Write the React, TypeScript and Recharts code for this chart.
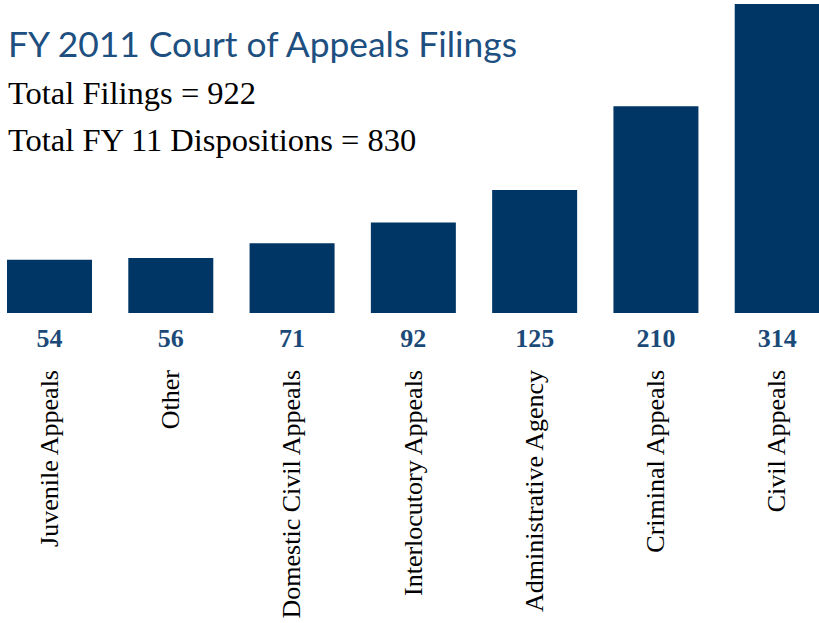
import React from "react";
import { BarChart, Bar, XAxis, YAxis, LabelList } from "recharts";

const categories = [
  "Juvenile Appeals",
  "Other",
  "Domestic Civil Appeals",
  "Interlocutory Appeals",
  "Administrative Agency",
  "Criminal Appeals",
  "Civil Appeals",
];
const filings = [54, 56, 71, 92, 125, 210, 314];
const titleText = "FY 2011 Court of Appeals Filings";
const subtitleLines = ["Total Filings = 922", "Total FY 11 Dispositions = 830"];

const data = categories.map((name, i) => ({ name, value: filings[i] }));

const BAR_COLOR = "#003665";
const LABEL_COLOR = "#1c4a78";
const SERIF = "'Liberation Serif', 'Times New Roman', serif";

const CategoryTick = (props: any) => {
  const { x, payload } = props;
  return (
    <text
      transform={`translate(${x + 8}, 370) rotate(-90)`}
      textAnchor="end"
      fontFamily={SERIF}
      fontSize={26}
      fill="#000"
    >
      {payload.value}
    </text>
  );
};

const ValueLabel = (props: any) => {
  const { x, y, width, height, value } = props;
  return (
    <text
      x={x + width / 2}
      y={y + height + 34}
      textAnchor="middle"
      fontFamily={SERIF}
      fontWeight="bold"
      fontSize={26}
      fill={LABEL_COLOR}
    >
      {value}
    </text>
  );
};

export default function App() {
  return (
    <div
      style={{
        position: "relative",
        width: 819,
        height: 623,
        overflow: "hidden",
        background: "#fff",
      }}
    >
      <style>{`html,body{margin:0;padding:0;overflow:hidden;}`}</style>
      <div style={{ position: "absolute", left: -11, top: 0, width: 849, height: 623 }}>
        <BarChart
          width={849}
          height={623}
          data={data}
          margin={{ top: 4, right: 0, bottom: 0, left: 0 }}
        >
          <YAxis hide domain={[0, 314]} allowDataOverflow />
          <XAxis
            dataKey="name"
            height={310}
            axisLine={false}
            tickLine={false}
            interval={0}
            tick={<CategoryTick />}
            tickMargin={0}
            padding={{ left: 0, right: 0 }}
          />
          <Bar dataKey="value" fill={BAR_COLOR} barSize={85} isAnimationActive={false}>
            <LabelList dataKey="value" content={<ValueLabel />} />
          </Bar>
        </BarChart>
      </div>
      <svg
        width={819}
        height={623}
        style={{ position: "absolute", left: 0, top: 0, pointerEvents: "none" }}
      >
        <text
          x={8}
          y={57}
          fontFamily="Lato, 'Open Sans', sans-serif"
          fontSize={35}
          fill="#1d4f80"
          textLength={509}
          lengthAdjust="spacingAndGlyphs"
        >
          {titleText}
        </text>
        <text x={8} y={104} fontFamily={SERIF} fontSize={32.5} fill="#000">
          {subtitleLines[0]}
        </text>
        <text x={8} y={151} fontFamily={SERIF} fontSize={32.5} fill="#000">
          {subtitleLines[1]}
        </text>
      </svg>
    </div>
  );
}
